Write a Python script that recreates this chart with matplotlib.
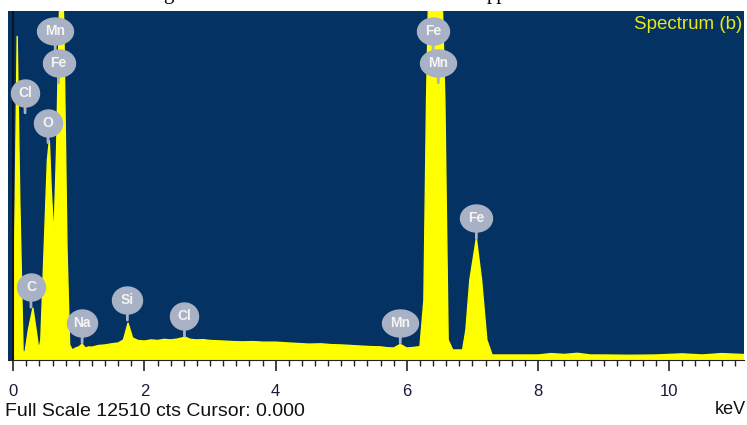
import numpy as np
import matplotlib.pyplot as plt
from matplotlib.ticker import MultipleLocator
from matplotlib.transforms import ScaledTranslation

# spectrum outline (keV, counts)
energy_kev = [0.00, 0.03, 0.06, 0.10, 0.15, 0.18, 0.23, 0.30, 0.36, 0.39, 0.42, 0.47, 0.52, 0.55,
              0.58, 0.62, 0.66, 0.70, 0.73, 0.77, 0.82, 0.86, 0.90, 0.95, 1.00, 1.05, 1.10, 1.15,
              1.20, 1.30, 1.40, 1.50, 1.60, 1.68, 1.75, 1.82, 1.90, 2.00, 2.10, 2.20, 2.30, 2.40,
              2.50, 2.62, 2.70, 2.80, 2.90, 3.00, 3.10, 3.20, 3.35, 3.50, 3.65, 3.80, 4.00, 4.20,
              4.35, 4.50, 4.70, 4.85, 5.00, 5.15, 5.30, 5.45, 5.60, 5.70, 5.80, 5.90, 6.00, 6.10,
              6.20, 6.26, 6.30, 6.33, 6.43, 6.54, 6.58, 6.63, 6.70, 6.85, 6.90, 6.96, 7.06, 7.14,
              7.22, 7.30, 7.60, 8.00, 8.20, 8.40, 8.60, 8.80, 9.00, 9.40, 9.80, 10.20, 10.50,
              10.80, 11.20]
counts = [540, 5700, 11600, 5700, 290, 290, 1070, 1860, 890, 360, 720, 3930, 7150, 7860,
          6080, 4360, 7500, 12150, 14600, 12150, 3930, 540, 360, 430, 470, 570, 430, 470,
          460, 520, 540, 580, 610, 720, 1320, 790, 700, 680, 720, 700, 740, 720,
          750, 820, 740, 720, 730, 700, 690, 680, 660, 650, 660, 640, 640, 610,
          590, 570, 580, 550, 540, 520, 500, 480, 470, 440, 430, 560, 430, 450,
          480, 2140, 9290, 12900, 20000, 12900, 9290, 720, 360, 360, 1070, 2860, 4360, 2860,
          720, 180, 180, 180, 230, 200, 240, 180, 180, 170, 180, 220, 180,
          230, 190]

# element markers: label, energy, counts at the tip of the marker stem
marker_labels = ['Mn', 'Fe', 'Cl', 'O', 'C', 'Na', 'Si', 'Cl', 'Mn', 'Fe', 'Mn', 'Fe']
marker_kev = [0.64, 0.69, 0.18, 0.53, 0.27, 1.05, 1.74, 2.61, 5.90, 6.40, 6.48, 7.06]
marker_cts = [11080, 9940, 8860, 7790, 1890, 610, 1430, 860, 610, 11080, 9940, 4360]

full_scale = 12510
bg = '#043263'
yellow = '#ffff00'
balloon = '#a9b2c4'
balloon_w = {'Mn': 36, 'Fe': 32, 'Na': 30, 'Si': 30, 'Cl': 28, 'O': 28, 'C': 28}  # px

fig = plt.figure(figsize=(7.47, 4.25), dpi=100)
ax = fig.add_axes([8 / 747, 65 / 425, 736 / 747, 349 / 425])
ax.set_facecolor(bg)

ax.fill_between(energy_kev, counts, 0, color=yellow, lw=0)
ax.plot(energy_kev, counts, color=yellow, lw=1)
ax.axvline(0, color='#111122', lw=1.5)

# balloon sits 20 px above the tip of its stem
lift = ax.transData + ScaledTranslation(0, 20 / 100, fig.dpi_scale_trans)
t = np.linspace(0, 2 * np.pi, 60)
for lab, e, c in zip(marker_labels, marker_kev, marker_cts):
    w = balloon_w[lab]
    ratio = 27 / w
    ellipse = list(zip(np.cos(t), ratio * np.sin(t)))
    ax.annotate('', xy=(e, c), xytext=(0, 14.4), textcoords='offset points',
                arrowprops=dict(arrowstyle='-', color=balloon, lw=2, shrinkA=0, shrinkB=0))
    ax.plot([e], [c], marker=ellipse, ms=w * 0.72, color=balloon, mec=balloon,
            transform=lift, zorder=4, clip_on=False)
    ax.text(e, c, lab, transform=lift, ha='center', va='center', color='#f4f4f4',
            fontsize=10, family='Liberation Sans', fontweight='bold', zorder=5)

ax.text(0.997, 0.96, 'Spectrum (b)', transform=ax.transAxes, ha='right', va='center',
        color='#e8e81a', fontsize=13.5, family='Liberation Sans')

ax.set_xlim(-0.08, 11.14)
ax.set_ylim(0, full_scale)
ax.set_yticks([])
ax.xaxis.set_major_locator(MultipleLocator(2))
ax.xaxis.set_minor_locator(MultipleLocator(0.2))
ax.tick_params(axis='x', which='major', direction='out', length=8, width=1.2,
               color='#222222', pad=9, labelsize=12, labelcolor='#1a1a3a')
ax.tick_params(axis='x', which='minor', direction='out', length=4, width=1, color='#222222')
for lbl in ax.get_xticklabels():
    lbl.set_family('Liberation Sans')
for side in ['top', 'left', 'right']:
    ax.spines[side].set_visible(False)
ax.spines['bottom'].set_color('#222222')

fig.text(5 / 747, 1 - 412 / 425, 'Full Scale 12510 cts Cursor: 0.000', ha='left', va='center',
         fontsize=14, family='Liberation Sans', color='#111111')
fig.text(746 / 747, 1 - 410 / 425, 'keV', ha='right', va='center',
         fontsize=13, family='Liberation Sans', color='#111111')

# caption cut off at the very top of the picture
fig.text(163 / 747, 1 + 1 / 425, 'g', ha='left', va='baseline', fontsize=15,
         family='Liberation Serif', color='black')
fig.text(487 / 747, 1 + 1 / 425, 'pp', ha='left', va='baseline', fontsize=15,
         family='Liberation Serif', color='black')

fig.savefig('out.png', dpi=100, facecolor='white')
